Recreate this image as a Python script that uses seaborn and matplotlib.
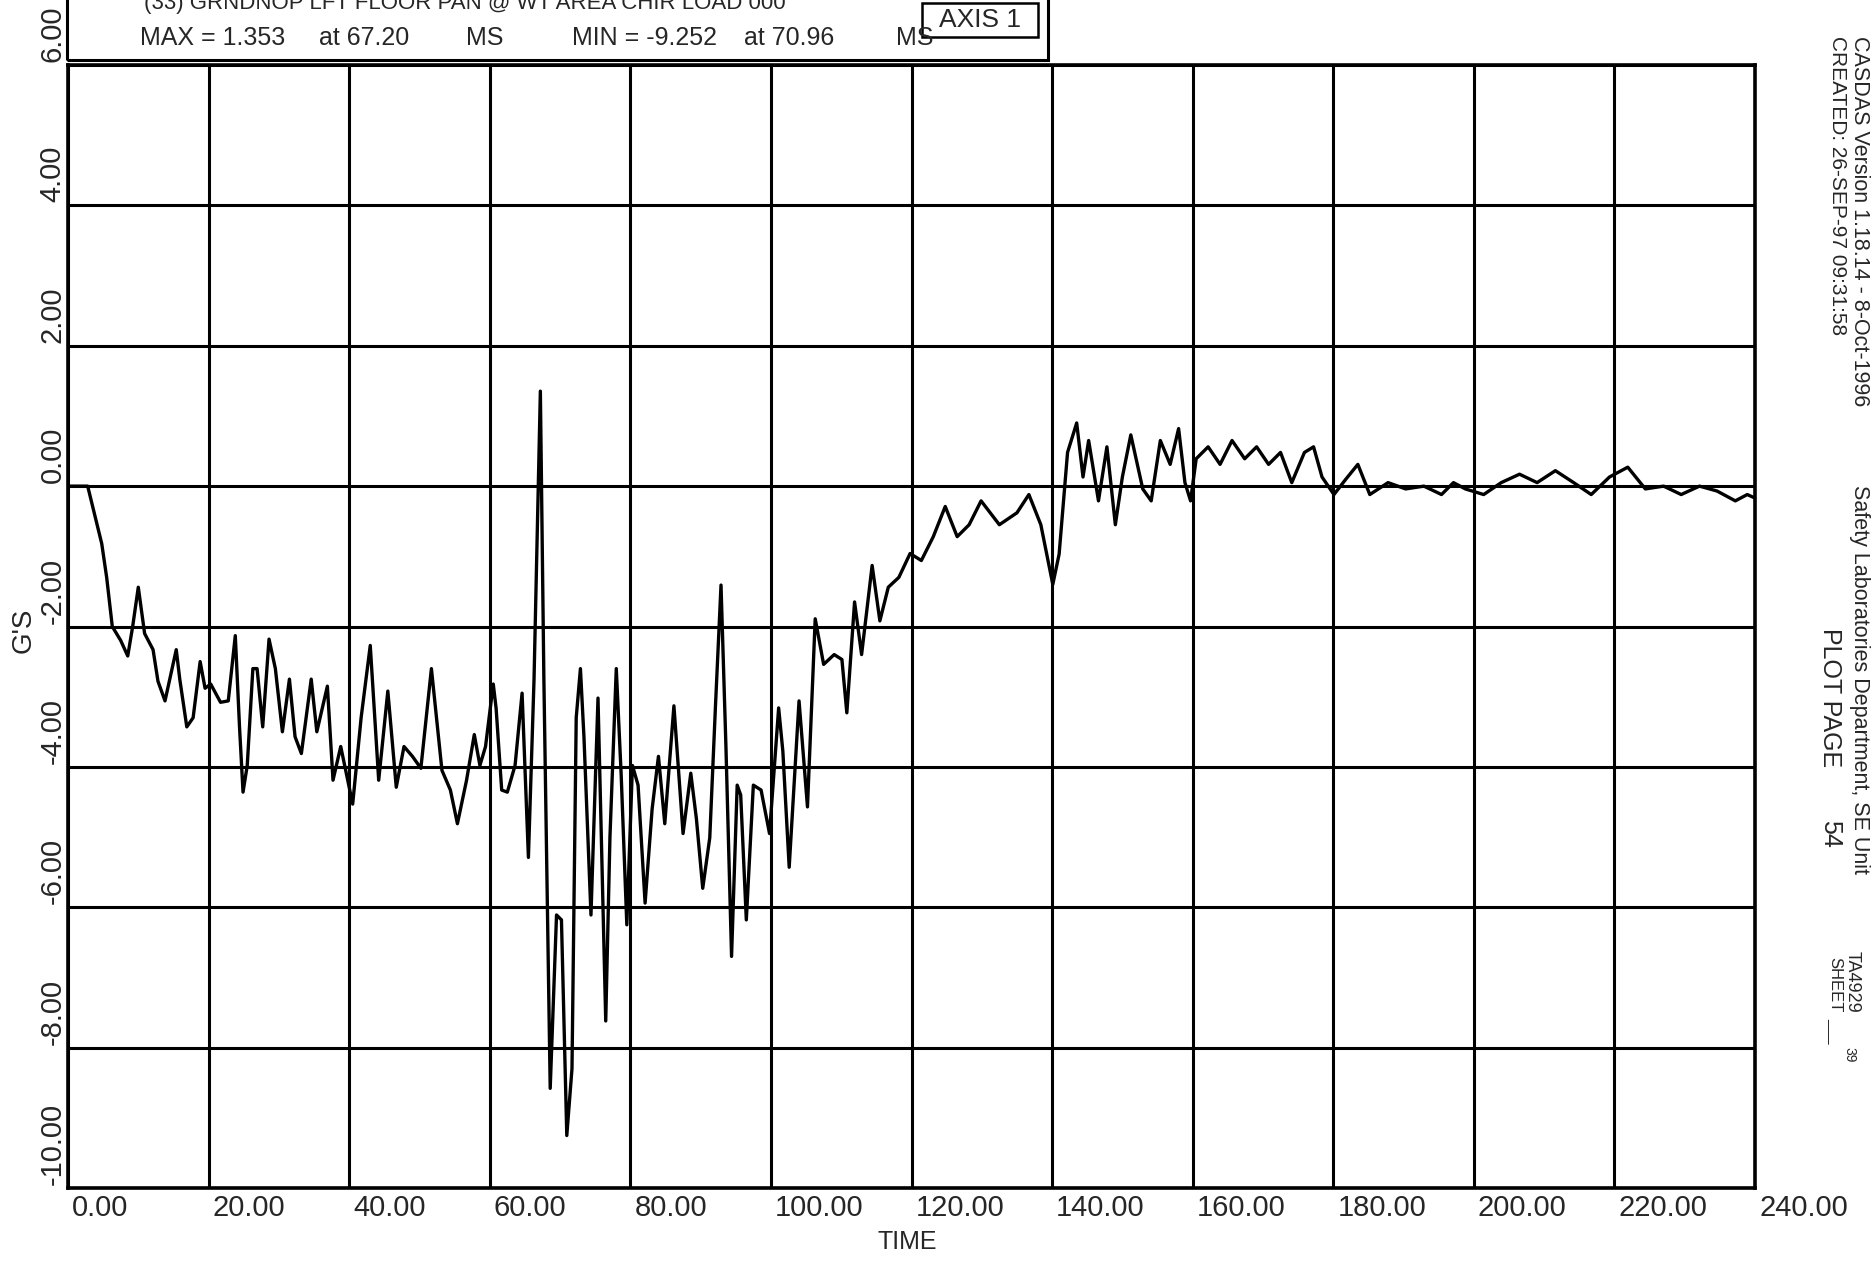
import matplotlib
matplotlib.use("Agg")
import matplotlib.pyplot as plt
import matplotlib.transforms as mtransforms
from matplotlib.patches import Rectangle
import seaborn as sns

# acceleration trace (ms, G's)
time_ms = [0, 2.8, 4.8, 5.5, 6.3, 7.5, 8.5, 9.2, 10.0, 10.9, 12.1, 12.8, 13.8, 14.8,
           15.4, 15.9, 16.9, 17.8, 18.8, 19.5, 20.3, 21.7, 22.8, 23.8, 24.4, 24.9,
           25.5, 26.3, 26.9, 27.7, 28.6, 29.5, 30.5, 31.5, 32.3, 33.2, 34.6, 35.4,
           36.9, 37.7, 38.8, 39.5, 40.5, 41.7, 43.0, 44.2, 45.5, 46.7, 47.8, 49.0,
           50.2, 51.7, 53.2, 54.4, 55.4, 56.7, 57.8, 58.6, 59.4, 60.5, 60.9, 61.7,
           62.5, 63.6, 64.6, 65.5, 66.3, 67.2, 67.7, 68.6, 69.5, 70.2, 70.96, 71.7,
           72.3, 72.9, 73.4, 74.4, 75.4, 76.5, 77.1, 78.0, 78.7, 79.5, 80.3, 81.1,
           82.1, 83.1, 84.0, 84.9, 86.2, 87.5, 88.6, 89.4, 90.3, 91.3, 92.1, 92.9,
           93.6, 94.4, 95.2, 95.7, 96.5, 97.5, 98.6, 99.8, 101.1, 101.7, 102.6, 104.0,
           105.2, 106.3, 107.5, 109.0, 110.1, 110.8, 111.9, 112.9, 114.4, 115.5, 116.7,
           118.2, 119.8, 121.4, 123.1, 124.8, 126.5, 128.2, 129.9, 132.5, 135.0, 136.7,
           138.4, 140.1, 141.0, 142.2, 143.5, 144.4, 145.2, 146.6, 147.8, 149.0, 150.0,
           151.2, 152.9, 154.1, 155.4, 156.8, 158.0, 158.9, 159.7, 160.5, 162.2, 163.9,
           165.6, 167.4, 169.1, 170.8, 172.5, 174.1, 175.9, 177.2, 178.4, 180.1, 181.8,
           183.5, 185.2, 187.8, 190.3, 192.9, 195.4, 197.1, 198.8, 201.4, 203.9, 206.5,
           209.0, 211.6, 214.2, 216.7, 219.3, 221.9, 224.4, 227.0, 229.5, 232.1, 234.6,
           237.2, 238.9, 240.0]
gs = [0, 0, -0.82, -1.3, -2.0, -2.2, -2.42, -2.0, -1.44, -2.1, -2.33, -2.78, -3.06, -2.6,
      -2.33, -2.75, -3.43, -3.3, -2.5, -2.88, -2.82, -3.08, -3.06, -2.13, -3.43, -4.36,
      -3.98, -2.6, -2.6, -3.43, -2.18, -2.6, -3.5, -2.75, -3.57, -3.81, -2.75, -3.5,
      -2.85, -4.19, -3.71, -4.05, -4.53, -3.3, -2.27, -4.19, -2.92, -4.29, -3.71, -3.85,
      -4.02, -2.6, -4.05, -4.33, -4.81, -4.19, -3.54, -3.98, -3.71, -2.82, -3.16, -4.33,
      -4.36, -3.98, -2.95, -5.29, -2.75, 1.353, -2.75, -8.58, -6.11, -6.18, -9.252, -8.3,
      -3.3, -2.6, -3.57, -6.11, -3.02, -7.62, -5.0, -2.6, -4.12, -6.25, -3.98, -4.26,
      -5.94, -4.6, -3.85, -4.81, -3.13, -4.95, -4.09, -4.74, -5.73, -5.01, -3.16, -1.41,
      -3.71, -6.7, -4.26, -4.4, -6.18, -4.26, -4.33, -4.95, -3.16, -3.78, -5.43, -3.06,
      -4.57, -1.89, -2.54, -2.4, -2.47, -3.23, -1.65, -2.4, -1.13, -1.92, -1.44,
      -1.3, -0.96, -1.06, -0.72, -0.29, -0.72, -0.55, -0.21, -0.55, -0.38, -0.12,
      -0.55, -1.40, -0.97, 0.48, 0.90, 0.13, 0.65, -0.21, 0.56, -0.55, 0.13,
      0.73, -0.04, -0.21, 0.65, 0.31, 0.82, 0.05, -0.21, 0.39, 0.56, 0.31,
      0.65, 0.39, 0.56, 0.31, 0.48, 0.05, 0.48, 0.56, 0.13, -0.12, 0.10,
      0.31, -0.12, 0.05, -0.04, 0.0, -0.12, 0.05, -0.04, -0.12, 0.05, 0.17,
      0.05, 0.22, 0.05, -0.12, 0.13, 0.27, -0.04, 0.0, -0.12, 0.0, -0.07,
      -0.21, -0.12, -0.17]
assert len(time_ms) == len(gs), (len(time_ms), len(gs))

x_ticks = list(range(0, 241, 20))
y_ticks = list(range(-10, 7, 2))

sns.set_style("white")
plt.rcParams["font.family"] = ["Liberation Sans", "DejaVu Sans"]

W, H = 1876, 1263
fig = plt.figure(figsize=(W / 100, H / 100), dpi=100)
ax = fig.add_axes([68 / W, 1 - 1188 / H, (1755 - 68) / W, (1188 - 65) / H])

sns.lineplot(x=time_ms, y=gs, ax=ax, color="black", linewidth=2.4,
             sort=False, estimator=None)

ax.set_xlim(0, 240)
ax.set_ylim(-10, 6)
ax.set_xticks(x_ticks)
ax.set_yticks(y_ticks)
ax.grid(True, color="black", linewidth=2.2)
for s in ax.spines.values():
    s.set_color("black")
    s.set_linewidth(2.6)
ax.set_axisbelow(True)

ax.tick_params(axis="both", direction="out", length=11, width=2, color="black")
ax.set_xticklabels([f"{v:.2f}" for v in x_ticks], fontsize=21, ha="left")
ax.tick_params(axis="x", pad=-7)
dx = mtransforms.ScaledTranslation(4 / 100, 0, fig.dpi_scale_trans)
for lab in ax.get_xticklabels():
    lab.set_transform(lab.get_transform() + dx)

ax.set_yticklabels([f"{v:.2f}" for v in y_ticks], fontsize=21, rotation=90,
                   rotation_mode="anchor", ha="left", va="center")
ax.tick_params(axis="y", pad=0)
dy = mtransforms.ScaledTranslation(0, 3 / 100, fig.dpi_scale_trans)
for lab in ax.get_yticklabels():
    lab.set_transform(lab.get_transform() + dy)

ax.set_xlabel("")
ax.set_ylabel("")
fig.text(907 / W, 1 - 1242 / H, "TIME", fontsize=18, ha="center", va="center")
fig.text(24 / W, 1 - 630 / H, "G'S", fontsize=20, rotation=90, ha="center", va="center")

# header box
fig.add_artist(Rectangle((67 / W, 1 - 60 / H), (1048 - 67) / W, 80 / H,
                         transform=fig.transFigure, fill=False, color="black", lw=2.2))
fig.add_artist(Rectangle((922 / W, 1 - 37 / H), (1038 - 922) / W, 34 / H,
                         transform=fig.transFigure, fill=False, color="black", lw=1.8))
fig.text(980 / W, 1 - 20 / H, "AXIS 1", fontsize=19, ha="center", va="center")
fig.text(144 / W, 1 - 9 / H, "(33) GRNDNOP LFT FLOOR PAN @ WT AREA CHIR LOAD 000",
         fontsize=16, ha="left", va="baseline")
hdr = [(140, "MAX = 1.353"), (319, "at 67.20"), (466, "MS"),
       (572, "MIN = -9.252"), (744, "at 70.96"), (896, "MS")]
for xp, txt in hdr:
    fig.text(xp / W, 1 - 38 / H, txt, fontsize=18, ha="left", va="center")

# right margin notes
side = dict(rotation=-90, rotation_mode="anchor", ha="left", va="center")
fig.text(1859 / W, 1 - 36 / H, "CASDAS Version 1.18.14 - 8-Oct-1996", fontsize=15.5, **side)
fig.text(1859 / W, 1 - 485 / H, "Safety Laboratories Department, SE Unit", fontsize=15.5, **side)
fig.text(1837 / W, 1 - 36 / H, "CREATED: 26-SEP-97 09:31:58", fontsize=15, **side)
fig.text(1830 / W, 1 - 628 / H, "PLOT PAGE", fontsize=18, **side)
fig.text(1830 / W, 1 - 820 / H, "54", fontsize=18, **side)
fig.text(1852 / W, 1 - 951 / H, "TA4929", fontsize=13, **side)
fig.text(1835 / W, 1 - 957 / H, "SHEET", fontsize=12, **side)
fig.text(1834 / W, 1 - 1018 / H, "___", fontsize=11, **side)
fig.text(1849 / W, 1 - 1047 / H, "39", fontsize=10, **side)

fig.savefig("out.png", dpi=100, facecolor="white")
